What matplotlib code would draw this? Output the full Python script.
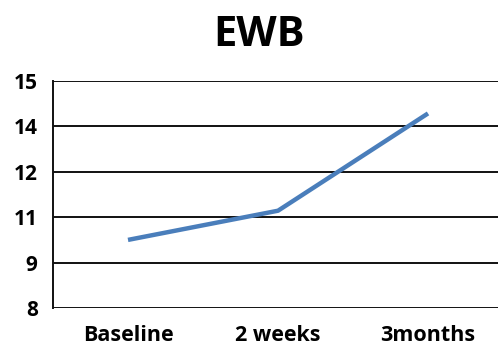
import matplotlib.pyplot as plt
import numpy as np

# data
categories = ['Baseline', '2 weeks', '3months']
ewb = [10.1, 11.0, 14.0]
y_ticks = [8.0, 9.4, 10.8, 12.2, 13.6, 15.0]
y_labels = ['8', '9', '11', '12', '14', '15']

fig = plt.figure(figsize=(4.98, 3.5), dpi=100)
ax = fig.add_axes([53 / 498, 1 - 308 / 350, 450 / 498, 227 / 350])

x = np.arange(len(categories))
ax.plot(x, ewb, color='#4A7EBB', linewidth=3.2, solid_capstyle='butt')

ax.set_xlim(-0.5, 2.5)
ax.set_ylim(8, 15)
ax.set_yticks(y_ticks)
ax.set_yticklabels(y_labels)
ax.set_xticks(x)
ax.set_xticklabels(categories)

for yv in y_ticks:
    ax.axhline(yv, color='#111111', linewidth=1.4, zorder=0)

for side in ['top', 'right', 'bottom']:
    ax.spines[side].set_visible(False)
ax.spines['left'].set_color('#111111')
ax.spines['left'].set_linewidth(1.4)

ax.tick_params(axis='y', length=0, labelsize=15, pad=11)
ax.tick_params(axis='x', length=0, labelsize=15.5, pad=12)
for lbl in ax.get_xticklabels() + ax.get_yticklabels():
    lbl.set_fontfamily('Open Sans')
    lbl.set_fontweight('bold')

fig.text(0.52, 0.9, 'EWB', ha='center', va='center', fontsize=30,
         fontweight='bold', fontfamily='Open Sans')

fig.savefig('out.png', dpi=100)
